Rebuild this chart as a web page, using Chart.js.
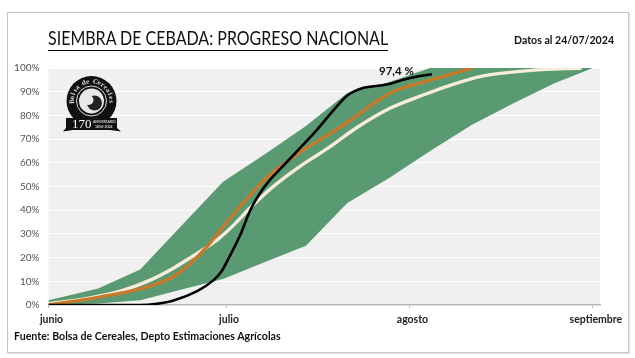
<!DOCTYPE html>
<html lang="es">
<head>
<meta charset="utf-8">
<style>
html,body{margin:0;padding:0;background:#fff;}
#wrap{position:relative;width:635px;height:358px;overflow:hidden;font-family:Lato,sans-serif;}
#frame{position:absolute;left:7px;top:12px;width:620px;height:339px;border:1px solid #c4c4c4;box-shadow:1px 1px 1px #e4e4e4;}
canvas{position:absolute;left:0;top:0;}
.t{position:absolute;white-space:nowrap;color:#111;}
#title{left:48px;top:28px;font-size:18.5px;line-height:21px;padding-bottom:1px;border-bottom:1px solid #000;transform:scaleX(.865);transform-origin:left top;}
#date{left:514px;top:33px;font-size:10.6px;line-height:14px;font-weight:700;}
#source{left:14px;top:329px;font-size:10.65px;line-height:14px;font-weight:700;}
</style>
<script src="https://cdn.jsdelivr.net/npm/chart.js@4"></script>
</head>
<body>
<div id="wrap">
<div id="frame"></div>
<canvas id="c" width="635" height="358"></canvas>
<div class="t" id="title">SIEMBRA DE CEBADA: PROGRESO NACIONAL</div>
<div class="t" id="date">Datos al 24/07/2024</div>
<div class="t" id="source">Fuente: Bolsa de Cereales, Depto Estimaciones Agrícolas</div>
</div>
<script>
// Days counted from 1 June
const monthTicks = [0, 30, 61, 92];
const monthLabels = ['junio', 'julio', 'agosto', 'septiembre'];

const bandDays  = [0, 8.4, 15.5, 22.5, 29.5, 36.5, 43.5, 50.5, 57.5, 64.5, 71.5, 78.5, 85.5, 92];
const bandUpper = [2, 7, 15, 33.5, 52, 63.5, 75.5, 89.5, 94, 100, 100, 100, 100, 100];
const bandLower = [0, 0.6, 2, 6.5, 11, 18, 25, 43, 53.5, 65, 76, 85, 93.6, 100];

const creamDays   = [0, 7, 12.7, 17.2, 21.1, 24, 28.5, 31.2, 34.1, 37.5, 42.2, 47.1, 52.2, 57.7, 63.3, 67.5, 73.3, 81.7, 90.1];
const creamValues = [0.5, 3, 6.3, 10.5, 15.5, 20, 27.5, 33.5, 41, 49, 58, 66, 75, 83, 88.6, 92.4, 96.6, 99, 100];

const orangeDays   = [0, 8.8, 17.2, 21.1, 24, 26.8, 30, 33.6, 37, 42.2, 46.4, 50.5, 54.9, 58.2, 63.3, 67.5, 71.6];
const orangeValues = [0, 3.4, 8, 12, 17.5, 24.6, 34.5, 45, 54, 64, 70.5, 77, 85, 90, 94, 97, 100];

const currentDays   = [0, 15.5, 18, 21, 25.2, 27.9, 29.2, 30.5, 32.4, 34.1, 36.1, 37.5, 39.2, 42.2, 45.4, 48.1, 50.6, 53, 57.2, 60.6, 64.8];
const currentValues = [0, 0, 0.4, 1.8, 6, 10.5, 14, 20, 29.5, 40, 48.5, 53, 57.5, 65.4, 74, 82, 88.6, 91.5, 93, 95.5, 97.4];

const lastLabel = '97,4 %';
const pairs = (xs, ys) => xs.map((x, i) => ({x, y: ys[i]}));

const plotBackground = {
  id: 'plotBackground',
  beforeDraw(chart) {
    const {ctx, chartArea: a} = chart;
    ctx.save();
    ctx.fillStyle = '#f0f0f0';
    ctx.fillRect(a.left, a.top, a.right - a.left, a.bottom - a.top);
    ctx.restore();
  }
};

const lastPointLabel = {
  id: 'lastPointLabel',
  afterDatasetsDraw(chart) {
    const {ctx, scales} = chart;
    const n = currentDays.length - 1;
    const px = scales.x.getPixelForValue(currentDays[n]);
    const py = scales.y.getPixelForValue(currentValues[n]);
    ctx.save();
    ctx.font = '700 11.5px Lato, sans-serif';
    ctx.fillStyle = '#111';
    ctx.textAlign = 'right';
    ctx.textBaseline = 'middle';
    ctx.fillText(lastLabel, px - 18, py - 3);
    ctx.restore();
  }
};

const logo = {
  id: 'logo',
  afterDraw(chart) {
    const ctx = chart.ctx, cx = 91.5, cy = 101;
    ctx.save();
    ctx.fillStyle = '#111';
    ctx.beginPath(); ctx.arc(cx, cy, 25, 0, Math.PI * 2); ctx.fill();
    ctx.strokeStyle = '#ddd'; ctx.lineWidth = 1;
    ctx.beginPath(); ctx.arc(cx, cy, 15, 0, Math.PI * 2); ctx.stroke();
    ctx.fillStyle = '#e8e8e8';
    ctx.beginPath(); ctx.arc(cx, cy, 12.5, 0, Math.PI * 2); ctx.fill();
    ctx.fillStyle = '#222';
    ctx.beginPath(); ctx.arc(cx + 3, cy + 2, 7.5, 0, Math.PI * 2); ctx.fill();
    ctx.fillStyle = '#e8e8e8';
    ctx.beginPath(); ctx.arc(cx - 3, cy - 1, 5, 0, Math.PI * 2); ctx.fill();
    const s = 'Bolsa de Cereales';
    ctx.fillStyle = '#ddd';
    ctx.font = '700 7px "Liberation Serif", serif';
    ctx.textAlign = 'center'; ctx.textBaseline = 'middle';
    [...s].forEach((ch, i) => {
      const ang = -Math.PI / 2 + (i - (s.length - 1) / 2) * 0.2;
      ctx.save();
      ctx.translate(cx + Math.cos(ang) * 19.5, cy + Math.sin(ang) * 19.5);
      ctx.rotate(ang + Math.PI / 2);
      ctx.fillText(ch, 0, 0);
      ctx.restore();
    });
    ctx.fillStyle = '#111';
    ctx.beginPath();
    ctx.moveTo(66, 118); ctx.lineTo(117, 118); ctx.lineTo(117, 128);
    ctx.lineTo(121, 131.5); ctx.lineTo(110, 130); ctx.lineTo(73, 130);
    ctx.lineTo(63, 131.5); ctx.lineTo(66, 128); ctx.closePath(); ctx.fill();
    ctx.fillStyle = '#fff';
    ctx.font = '13px "Liberation Serif", serif';
    ctx.textAlign = 'left';
    ctx.fillText('170', 72, 124.5);
    ctx.font = '3.5px Lato, sans-serif';
    ctx.fillText('ANIVERSARIO', 93, 122);
    ctx.fillText('1854-2024', 95, 127);
    ctx.restore();
  }
};

Chart.defaults.font.family = 'Lato, sans-serif';

new Chart(document.getElementById('c'), {
  type: 'line',
  plugins: [plotBackground, lastPointLabel, logo],
  data: {
    datasets: [
      {label: 'Campaña actual', data: pairs(currentDays, currentValues), borderColor: '#000', borderWidth: 2.6, pointRadius: 0, cubicInterpolationMode: 'monotone', order: 1},
      {label: 'Campaña anterior', data: pairs(orangeDays, orangeValues), borderColor: '#C5792B', borderWidth: 3.4, pointRadius: 0, cubicInterpolationMode: 'monotone', order: 2},
      {label: 'Promedio', data: pairs(creamDays, creamValues), borderColor: '#F6ECD9', borderWidth: 3.4, pointRadius: 0, cubicInterpolationMode: 'monotone', order: 3},
      {label: 'Máximo', data: pairs(bandDays, bandUpper), borderWidth: 0, borderColor: 'transparent', pointRadius: 0, backgroundColor: '#5A9A72', fill: '+1', order: 4},
      {label: 'Mínimo', data: pairs(bandDays, bandLower), borderWidth: 0, borderColor: 'transparent', pointRadius: 0, fill: false, order: 5}
    ]
  },
  options: {
    responsive: false,
    animation: false,
    layout: {padding: {left: 0, right: 35, top: 68, bottom: 0}},
    plugins: {legend: {display: false}, tooltip: {enabled: false}, title: {display: false}},
    scales: {
      x: {
        type: 'linear',
        min: 0,
        max: 93.2,
        afterBuildTicks(axis) { axis.ticks = monthTicks.map(value => ({value})); },
        afterFit(axis) { axis.height = 53; },
        grid: {drawOnChartArea: false, drawTicks: true, tickLength: 3, color: '#b5b5b5'},
        border: {color: '#b5b5b5', width: 1.5},
        ticks: {
          autoSkip: false, maxRotation: 0, padding: 5, labelOffset: 3,
          color: '#222', font: {size: 10.5, weight: '700'},
          callback(value) { const i = monthTicks.indexOf(value); return i < 0 ? '' : monthLabels[i]; }
        }
      },
      y: {
        min: 0,
        max: 100,
        afterFit(axis) { axis.width = 48.5; },
        grid: {color: '#ffffff', lineWidth: 1, drawTicks: false},
        border: {display: false},
        ticks: {stepSize: 10, padding: 9, color: '#555', font: {size: 10}, callback: v => v + '%'}
      }
    }
  }
});
</script>
</body>
</html>
